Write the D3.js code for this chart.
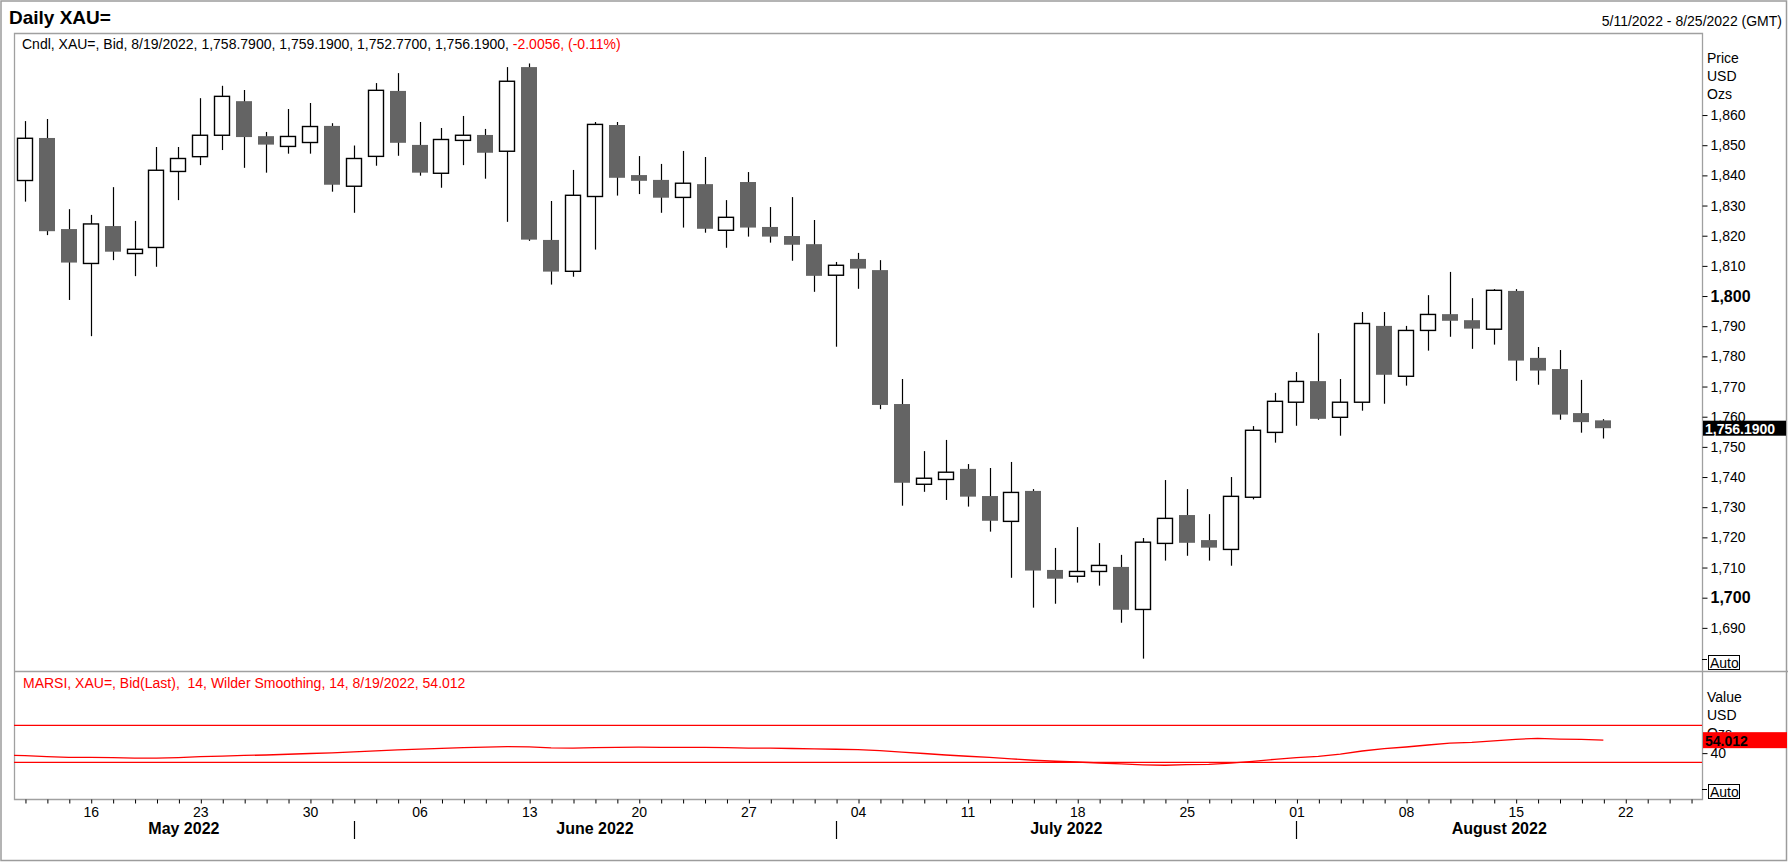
<!DOCTYPE html>
<html>
<head>
<meta charset="utf-8">
<script src="https://cdn.jsdelivr.net/npm/d3@7"></script>
<style>
  body { margin: 0; background: #fff; }
  text { font-family: "Liberation Sans", Arial, sans-serif; }
</style>
</head>
<body>
<script>
// daily XAU= bid candles, 5/11/2022 .. 8/19/2022 (one value per trading day)
const opens = [1838.3, 1852.4, 1822.2, 1810.8, 1823.2, 1814.1, 1816.1, 1841.3, 1846.2, 1853.3,
  1864.6, 1853.0, 1849.6, 1850.9, 1856.4, 1836.4, 1846.3, 1868.0, 1850.1, 1840.7,
  1851.6, 1853.4, 1848.0, 1875.9, 1818.6, 1808.2, 1833.0, 1856.7, 1840.1, 1838.5,
  1832.7, 1837.1, 1821.8, 1837.8, 1822.9, 1819.9, 1817.2, 1806.9, 1812.3, 1808.6,
  1764.2, 1737.6, 1739.2, 1742.7, 1733.7, 1725.3, 1735.4, 1709.2, 1707.1, 1708.7,
  1710.2, 1696.1, 1718.0, 1727.4, 1719.1, 1716.0, 1733.3, 1754.8, 1764.8, 1771.8,
  1759.8, 1764.8, 1790.1, 1773.4, 1788.6, 1794.0, 1792.0, 1789.0, 1801.7, 1779.5,
  1775.8, 1761.2, 1758.79];
const highs = [1858.0, 1858.7, 1828.8, 1826.9, 1836.1, 1824.9, 1849.4, 1849.4, 1865.6, 1869.7,
  1868.3, 1854.4, 1862.0, 1864.0, 1857.3, 1849.9, 1870.6, 1873.9, 1857.7, 1855.7,
  1859.7, 1855.4, 1875.9, 1877.1, 1831.5, 1841.8, 1857.7, 1857.7, 1846.4, 1843.8,
  1848.1, 1846.1, 1831.8, 1841.1, 1829.5, 1832.8, 1825.2, 1811.3, 1814.3, 1811.9,
  1772.5, 1748.6, 1752.3, 1744.3, 1743.0, 1745.0, 1736.0, 1716.5, 1723.4, 1718.1,
  1714.2, 1719.8, 1739.0, 1736.0, 1727.7, 1740.0, 1756.9, 1767.9, 1774.8, 1787.7,
  1772.5, 1794.7, 1794.7, 1790.1, 1800.3, 1808.0, 1799.3, 1802.3, 1802.3, 1783.1,
  1782.1, 1772.2, 1759.19];
const lows = [1831.3, 1820.2, 1798.7, 1786.7, 1811.9, 1806.6, 1809.7, 1831.8, 1843.4, 1848.4,
  1842.5, 1840.9, 1847.2, 1847.2, 1834.6, 1827.6, 1843.2, 1846.5, 1839.9, 1835.9,
  1843.4, 1838.9, 1824.6, 1818.3, 1803.8, 1806.4, 1815.4, 1833.3, 1833.8, 1827.6,
  1822.7, 1821.0, 1816.0, 1819.7, 1817.7, 1811.7, 1801.4, 1783.2, 1802.4, 1762.5,
  1730.5, 1735.1, 1732.4, 1730.2, 1721.9, 1706.6, 1696.7, 1698.0, 1705.0, 1704.0,
  1691.7, 1679.8, 1712.3, 1713.9, 1712.3, 1710.6, 1732.6, 1751.4, 1757.0, 1759.0,
  1753.7, 1762.0, 1764.3, 1770.3, 1781.9, 1786.5, 1782.5, 1783.9, 1771.9, 1770.6,
  1759.0, 1754.7, 1752.77];
const closes = [1852.3, 1821.5, 1811.1, 1823.9, 1814.7, 1815.5, 1841.7, 1845.6, 1853.3, 1866.2,
  1852.7, 1850.2, 1852.9, 1856.2, 1836.9, 1845.6, 1868.2, 1850.8, 1840.9, 1851.9,
  1853.3, 1847.5, 1871.2, 1818.7, 1808.1, 1833.4, 1856.9, 1839.2, 1838.2, 1832.6,
  1837.4, 1822.3, 1826.1, 1822.7, 1819.7, 1817.0, 1806.7, 1810.2, 1809.1, 1763.9,
  1738.1, 1739.6, 1741.6, 1733.5, 1725.5, 1734.9, 1709.0, 1706.3, 1708.7, 1710.7,
  1696.0, 1718.4, 1726.3, 1718.2, 1716.6, 1733.6, 1755.5, 1765.1, 1771.7, 1759.3,
  1764.8, 1790.9, 1773.9, 1788.6, 1793.9, 1791.8, 1789.2, 1801.9, 1778.6, 1775.3,
  1760.7, 1758.2, 1756.19];

// MARSI 14 (Wilder smoothing); first value belongs to the 5/10 session
const rsiValues = [37.8,
  37.3, 36.3, 35.4, 35.3, 35.2, 34.6, 34.5, 35.2, 36.2, 36.8,
  37.5, 38.0, 38.8, 39.6, 40.2, 41.3, 42.5, 43.5, 44.3, 45.2,
  45.9, 46.4, 47.1, 46.7, 45.6, 45.4, 46.0, 46.3, 46.4, 46.3,
  46.3, 46.2, 46.0, 45.5, 45.3, 45.0, 44.5, 44.2, 43.8, 42.6,
  41.0, 39.6, 38.0, 36.6, 35.3, 33.8, 32.3, 31.2, 30.4, 29.3,
  28.3, 27.4, 26.9, 27.6, 27.9, 29.2, 31.1, 33.3, 35.2, 36.5,
  39.0, 42.3, 44.8, 46.6, 48.8, 50.9, 51.6, 53.3, 54.9, 56.0,
  55.2, 54.9, 54.012];
const rsiBands = [70, 30];
const rsiTicks = [40];

const priceTicks = [1690, 1700, 1710, 1720, 1730, 1740, 1750, 1760, 1770, 1780, 1790, 1800,
  1810, 1820, 1830, 1840, 1850, 1860];
const majorTicks = [1700, 1800];
const monthLabels = ["May 2022", "June 2022", "July 2022", "August 2022"];

const W = 1788, H = 862;
const left = 14, right = 1702;
const priceTop = 33, paneSplit = 671, rsiBottom = 799;
const dark = "#646464", frame = "#a0a0a0";

// every weekday shown on the time axis (5/11 .. 8/25)
const days = d3.timeDay.range(new Date(2022, 4, 11), new Date(2022, 7, 26))
  .filter(d => d.getDay() !== 0 && d.getDay() !== 6);

const svg = d3.select("body").append("svg")
  .attr("width", W).attr("height", H)
  .style("display", "block");

svg.append("rect").attr("width", W).attr("height", H).attr("fill", "#fff");

// scales
const x = d3.scaleLinear().domain([-0.5, days.length - 0.5]).range([left, right]);
const step = x(1) - x(0);
const y = d3.scaleLinear().domain([1675.7, 1887.2]).range([paneSplit, priceTop]);
const yR = d3.scaleLinear().domain([-9.6, 128.8]).range([rsiBottom, paneSplit]);

svg.append("defs").append("clipPath").attr("id", "rsiClip")
  .append("rect").attr("x", left).attr("y", paneSplit)
  .attr("width", right - left).attr("height", rsiBottom - paneSplit);

// outer border and frames
svg.append("rect").attr("x", 1).attr("y", 1).attr("width", W - 2.5).attr("height", H - 2.5)
  .attr("fill", "none").attr("stroke", "#9c9c9c").attr("stroke-width", 1.5);

const fr = svg.append("g").attr("stroke", frame).attr("stroke-width", 1.3).attr("fill", "none");
fr.append("path").attr("d", `M${left + 0.5},${rsiBottom + 0.5}V${priceTop + 0.5}H${right + 0.5}V${rsiBottom + 0.5}Z`);
fr.append("line").attr("x1", left).attr("x2", W).attr("y1", paneSplit + 0.5).attr("y2", paneSplit + 0.5);

// titles
svg.append("text").attr("x", 9).attr("y", 24)
  .style("font-size", "19px").style("font-weight", "bold").text("Daily XAU=");
svg.append("text").attr("x", 1782).attr("y", 26).attr("text-anchor", "end")
  .style("font-size", "14px").text("5/11/2022 - 8/25/2022 (GMT)");

const info = svg.append("text").attr("x", 22).attr("y", 49).style("font-size", "14px");
info.append("tspan").text("Cndl, XAU=, Bid, 8/19/2022, " +
  [opens, highs, lows, closes].map(a => d3.format(",.4f")(a[a.length - 1])).join(", ") + ", ");
info.append("tspan").attr("fill", "#ff0000").text("-2.0056, (-0.11%)");

svg.append("text").attr("x", 23).attr("y", 688).attr("fill", "#ff0000").style("font-size", "14px")
  .attr("xml:space", "preserve")
  .text("MARSI, XAU=, Bid(Last),  14, Wilder Smoothing, 14, 8/19/2022, " + lastRsiText());

function lastRsiText() { return d3.format(".3f")(rsiValues[rsiValues.length - 1]); }

// candles
const candles = svg.append("g");
const bodyW = Math.round(step * 0.75);
closes.forEach(function(c, i) {
  const o = opens[i];
  const cx = Math.round(x(i)) + 0.5;
  candles.append("line")
    .attr("x1", cx).attr("x2", cx)
    .attr("y1", y(highs[i])).attr("y2", y(lows[i]))
    .attr("stroke", "#000").attr("stroke-width", 1.2);
  const top = y(Math.max(o, c)), bot = y(Math.min(o, c));
  const bx = Math.round(x(i) - bodyW / 2);
  if (c >= o) {
    candles.append("rect")
      .attr("x", bx + 0.5).attr("y", top).attr("width", bodyW - 1).attr("height", Math.max(2, bot - top))
      .attr("fill", "#fff").attr("stroke", "#000").attr("stroke-width", 1.4);
  } else {
    candles.append("rect")
      .attr("x", bx).attr("y", top).attr("width", bodyW).attr("height", Math.max(2, bot - top))
      .attr("fill", dark);
  }
});

// RSI pane
const rsiG = svg.append("g").attr("clip-path", "url(#rsiClip)");
rsiBands.forEach(function(v) {
  rsiG.append("line").attr("x1", left).attr("x2", right)
    .attr("y1", yR(v)).attr("y2", yR(v))
    .attr("stroke", "#ff0000").attr("stroke-width", 1.3);
});
rsiG.append("path")
  .datum(rsiValues)
  .attr("fill", "none").attr("stroke", "#ff0000").attr("stroke-width", 1.3)
  .attr("d", d3.line().x((d, i) => x(i - 1)).y(d => yR(d)));

// price axis
const pAxis = svg.append("g")
  .attr("transform", "translate(" + (right + 0.5) + ",0)")
  .call(d3.axisRight(y).tickValues(priceTicks).tickSize(5).tickPadding(3).tickFormat(d3.format(",")));
pAxis.select(".domain").remove();
pAxis.selectAll("text")
  .style("font-family", "'Liberation Sans', Arial, sans-serif")
  .style("font-size", d => majorTicks.includes(d) ? "16px" : "14px")
  .style("font-weight", d => majorTicks.includes(d) ? "bold" : "normal")
  .attr("fill", "#000");

// RSI axis
const rAxis = svg.append("g")
  .attr("transform", "translate(" + (right + 0.5) + ",0)")
  .call(d3.axisRight(yR).tickValues(rsiTicks).tickSize(5).tickPadding(3));
rAxis.select(".domain").remove();
rAxis.selectAll("text").style("font-family", "'Liberation Sans', Arial, sans-serif")
  .style("font-size", "14px").attr("fill", "#000");

// pane unit labels
[["Price", 63], ["USD", 81], ["Ozs", 99], ["Value", 702], ["USD", 720], ["Ozs", 738]].forEach(function(t) {
  svg.append("text").attr("x", 1707).attr("y", t[1]).style("font-size", "14px").text(t[0]);
});

// Auto buttons
[[659, 655], [789, 784]].forEach(function(a) {
  svg.append("line").attr("x1", right).attr("x2", right + 5).attr("y1", a[0] + 0.5).attr("y2", a[0] + 0.5)
    .attr("stroke", "#000");
  svg.append("rect").attr("x", 1708.5).attr("y", a[1] + 0.5).attr("width", 31).attr("height", 14)
    .attr("fill", "#fff").attr("stroke", "#000");
  svg.append("text").attr("x", 1710).attr("y", a[1] + 13).style("font-size", "14px").text("Auto");
});

// last value markers
const lastC = closes[closes.length - 1];
svg.append("rect").attr("x", right + 1).attr("y", y(lastC) - 7.5).attr("width", 83).attr("height", 15)
  .attr("fill", "#000");
svg.append("text").attr("x", right + 3).attr("y", y(lastC) + 5.5)
  .attr("fill", "#fff").style("font-size", "14px").style("font-weight", "bold")
  .text(d3.format(",.4f")(lastC));

const lastR = rsiValues[rsiValues.length - 1];
svg.append("rect").attr("x", right + 1).attr("y", yR(lastR) - 8).attr("width", 84).attr("height", 16)
  .attr("fill", "#ff0000");
svg.append("text").attr("x", right + 3).attr("y", yR(lastR) + 5.5)
  .attr("fill", "#000").style("font-size", "14px").style("font-weight", "bold")
  .text(lastRsiText());

// time axis
const tAxis = svg.append("g")
  .attr("transform", "translate(0," + (rsiBottom + 0.5) + ")")
  .call(d3.axisBottom(x).tickValues(d3.range(days.length)).tickSize(4).tickPadding(4)
    .tickFormat(i => days[i].getDay() === 1 ? d3.timeFormat("%d")(days[i]) : ""));
tAxis.select(".domain").remove();
tAxis.selectAll("line").attr("transform", "translate(0.5,0)");
tAxis.selectAll("text").style("font-family", "'Liberation Sans', Arial, sans-serif")
  .style("font-size", "14px").attr("fill", "#000");

// month separators and labels
const monthStarts = days.map((d, i) => i).filter(i => i > 0 && days[i].getMonth() !== days[i - 1].getMonth());
const bounds = [left].concat(monthStarts.map(i => x(i)), [right]);
monthStarts.forEach(function(i) {
  svg.append("line").attr("x1", Math.round(x(i)) + 0.5).attr("x2", Math.round(x(i)) + 0.5)
    .attr("y1", 821).attr("y2", 839).attr("stroke", "#000").attr("stroke-width", 1.2);
});
monthLabels.forEach(function(m, k) {
  svg.append("text").attr("x", (bounds[k] + bounds[k + 1]) / 2).attr("y", 834)
    .attr("text-anchor", "middle").style("font-size", "16px").style("font-weight", "bold").text(m);
});
</script>
</body>
</html>
